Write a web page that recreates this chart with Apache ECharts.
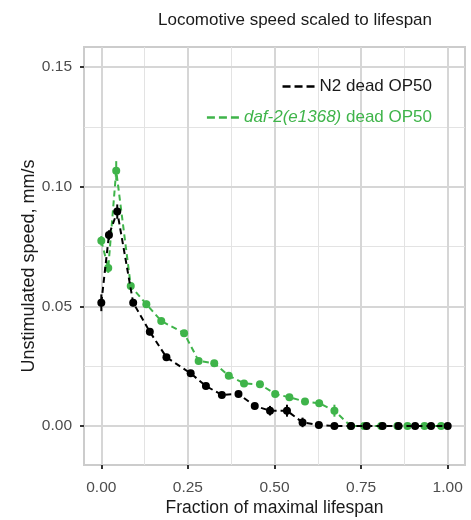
<!DOCTYPE html>
<html>
<head>
<meta charset="utf-8">
<script src="https://cdn.jsdelivr.net/npm/echarts@6/dist/echarts.min.js"></script>
<style>html,body{margin:0;padding:0;background:#fff}#c{width:471px;height:520px}</style>
</head>
<body>
<div id="c"></div>
<script>
// ---- data ----
var n2Name = 'N2 dead OP50';
var n2X = [0, 0.022, 0.046, 0.092, 0.14, 0.188, 0.258, 0.302, 0.348, 0.396, 0.443, 0.487, 0.536, 0.581, 0.628, 0.673, 0.721, 0.766, 0.812, 0.858, 0.906, 0.952, 1.0];
var n2Y = [0.0515, 0.0798, 0.0896, 0.0515, 0.0394, 0.0287, 0.022, 0.0167, 0.013, 0.0134, 0.0084, 0.0064, 0.0064, 0.0015, 0.0004, 0, 0, 0, 0, 0, 0, 0, 0];
var n2Err = [0.0035, 0.002, 0.003, 0.0015, 0.0015, 0.001, 0.001, 0.001, 0.001, 0.001, 0.0012, 0.002, 0.0025, 0.002, 0.0005, 0.0005, 0.0003, 0.0003, 0.0003, 0.0003, 0.0003, 0.0003, 0.0003];
var dafName = 'daf-2(e1368) dead OP50';
var dafX = [0, 0.02, 0.043, 0.085, 0.13, 0.173, 0.239, 0.281, 0.326, 0.368, 0.412, 0.458, 0.502, 0.543, 0.588, 0.629, 0.673, 0.72, 0.759, 0.808, 0.855, 0.884, 0.933, 0.981];
var dafY = [0.0774, 0.066, 0.1067, 0.0585, 0.0509, 0.0439, 0.0388, 0.0272, 0.0262, 0.021, 0.0178, 0.0174, 0.0134, 0.012, 0.0102, 0.0095, 0.0064, 0, 0, 0, 0, 0, 0, 0];
var dafErr = [0.002, 0.002, 0.004, 0.0015, 0.0015, 0.001, 0.001, 0.001, 0.001, 0.001, 0.001, 0.001, 0.001, 0.001, 0.001, 0.0015, 0.0025, 0.0003, 0.0003, 0.0003, 0.0003, 0.0003, 0.0003, 0.0003];
var xMajor = [0, 0.25, 0.5, 0.75, 1.0];
var xMinor = [0.125, 0.375, 0.625, 0.875];
var yMajor = [0, 0.05, 0.10, 0.15];
var yMinor = [0.025, 0.075, 0.125];

var BLACK = '#000000', GREEN = '#3fb44a';
var FONT = 'Liberation Sans';

function pts(xs, ys) { return xs.map(function (x, i) { return [x, ys[i]]; }); }
function errs(xs, ys, es) { return xs.map(function (x, i) { return [x, ys[i] - es[i], ys[i] + es[i]]; }); }

function errSeries(name, data, color) {
  return {
    type: 'custom', name: name + ' err', xAxisIndex: 0, yAxisIndex: 0, z: 3,
    data: data, silent: true,
    renderItem: function (params, api) {
      var p1 = api.coord([api.value(0), api.value(1)]);
      var p2 = api.coord([api.value(0), api.value(2)]);
      return { type: 'line', shape: { x1: p1[0], y1: p1[1], x2: p2[0], y2: p2[1] },
               style: { stroke: color, lineWidth: 2 } };
    }
  };
}

var grid = { left: 84, right: 6, top: 47, bottom: 55, outerBoundsMode: 'none', containLabel: false,
             show: true, borderColor: '#cccccc', borderWidth: 2, backgroundColor: '#fff' };

var xBase = { type: 'value', min: -0.05, max: 1.05, gridIndex: 0 };
var yBase = { type: 'value', min: -0.0163, max: 0.1584, gridIndex: 0 };

var option = {
  animation: false,
  title: { text: 'Locomotive speed scaled to lifespan', left: 290, textAlign: 'center', top: 7,
           textStyle: { fontFamily: FONT, fontSize: 17, fontWeight: 'normal', color: '#1a1a1a' } },
  grid: grid,
  legend: [
    { data: [n2Name], right: 34, top: 73, itemWidth: 32, itemHeight: 3,
      icon: 'path://M0,0h8v2.5h-8z M12,0h8v2.5h-8z M24,0h8v2.5h-8z',
      itemStyle: { color: BLACK }, textStyle: { fontFamily: FONT, fontSize: 17, color: '#1a1a1a' } },
    { data: [dafName], right: 34, top: 104, itemWidth: 32, itemHeight: 3,
      icon: 'path://M0,0h8v2.5h-8z M12,0h8v2.5h-8z M24,0h8v2.5h-8z',
      itemStyle: { color: GREEN },
      formatter: function () { return '{i|daf-2(e1368)} dead OP50'; },
      textStyle: { fontFamily: FONT, fontSize: 17, color: GREEN,
                   rich: { i: { fontFamily: FONT, fontSize: 17, fontStyle: 'italic', color: GREEN } } } }
  ],
  xAxis: [
    Object.assign({}, xBase, {
      name: 'Fraction of maximal lifespan', nameLocation: 'middle', nameGap: 34, nameMoveOverlap: false,
      nameTextStyle: { fontFamily: FONT, fontSize: 17.5, color: '#1a1a1a' },
      axisLine: { show: false, onZero: false },
      axisTick: { show: true, length: 4, lineStyle: { color: '#333', width: 2 }, customValues: xMajor },
      axisLabel: { customValues: xMajor, margin: 15, fontFamily: FONT, fontSize: 15.5, color: '#4d4d4d',
                   formatter: function (v) { return v.toFixed(2); } },
      splitLine: { show: true, lineStyle: { color: '#d6d6d6', width: 2 } },
      z: 1
    }),
    Object.assign({}, xBase, {
      axisLine: { show: false, onZero: false },
      axisTick: { show: false, customValues: xMinor },
      axisLabel: { show: false, customValues: xMinor },
      splitLine: { show: true, lineStyle: { color: '#e3e3e3', width: 1 } },
      z: 0
    })
  ],
  yAxis: [
    Object.assign({}, yBase, {
      name: 'Unstimulated speed, mm/s', nameLocation: 'middle', nameGap: 46, nameMoveOverlap: false,
      nameTextStyle: { fontFamily: FONT, fontSize: 18, color: '#1a1a1a', padding: [0, 20, 0, 0] },
      axisLine: { show: false, onZero: false },
      axisTick: { show: true, length: 4, lineStyle: { color: '#333', width: 2 }, customValues: yMajor },
      axisLabel: { customValues: yMajor, margin: 12, fontFamily: FONT, fontSize: 15.5, color: '#4d4d4d',
                   formatter: function (v) { return v.toFixed(2); } },
      splitLine: { show: true, lineStyle: { color: '#d6d6d6', width: 2 } },
      z: 1
    }),
    Object.assign({}, yBase, {
      axisLine: { show: false, onZero: false },
      axisTick: { show: false, customValues: yMinor },
      axisLabel: { show: false, customValues: yMinor },
      splitLine: { show: true, lineStyle: { color: '#e3e3e3', width: 1 } },
      z: 0
    })
  ],
  series: [
    { type: 'line', name: dafName, data: pts(dafX, dafY), xAxisIndex: 0, yAxisIndex: 0,
      symbol: 'circle', symbolSize: 8, z: 2,
      itemStyle: { color: GREEN }, lineStyle: { color: GREEN, width: 2, type: [6, 4] } },
    errSeries(dafName, errs(dafX, dafY, dafErr), GREEN),
    { type: 'line', name: n2Name, data: pts(n2X, n2Y), xAxisIndex: 0, yAxisIndex: 0,
      symbol: 'circle', symbolSize: 8, z: 4,
      itemStyle: { color: BLACK }, lineStyle: { color: BLACK, width: 2, type: [6, 4] } },
    errSeries(n2Name, errs(n2X, n2Y, n2Err), BLACK)
  ]
};
var chart = echarts.init(document.getElementById('c'), null, { renderer: 'canvas' });
chart.setOption(option);
</script>
</body>
</html>
